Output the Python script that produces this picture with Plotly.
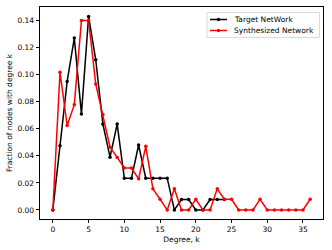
import plotly.graph_objects as go

target_k = list(range(0, 25))
target_frac = [0.0, 0.0474, 0.095, 0.127, 0.071, 0.143, 0.111, 0.0635, 0.039, 0.0635,
               0.0235, 0.0235, 0.048, 0.0235, 0.0235, 0.0235, 0.0235, 0.0, 0.0077, 0.0077,
               0.0, 0.0, 0.0077, 0.0077, 0.0077]

synth_k = list(range(0, 37))
synth_frac = [0.0, 0.1017, 0.0624, 0.0778, 0.140, 0.140, 0.093, 0.0706, 0.0464, 0.0388,
              0.031, 0.031, 0.023, 0.047, 0.0156, 0.0079, 0.0, 0.0156, 0.0, 0.0,
              0.0079, 0.0, 0.0, 0.0156, 0.0079, 0.0079, 0.0, 0.0, 0.0, 0.0079,
              0.0, 0.0, 0.0, 0.0, 0.0, 0.0, 0.0079]

series_names = ["Target NetWork", "Synthesized Network"]
series_colors = ["black", "red"]

x_ticks = [0, 5, 10, 15, 20, 25, 30, 35]
y_ticks = [0.00, 0.02, 0.04, 0.06, 0.08, 0.10, 0.12, 0.14]

fig = go.Figure()
for xs, ys, name, col in [(target_k, target_frac, series_names[0], series_colors[0]),
                          (synth_k, synth_frac, series_names[1], series_colors[1])]:
    fig.add_trace(go.Scatter(x=xs, y=ys, mode="lines+markers", name=name, showlegend=False,
                             line=dict(color=col, width=1.5), marker=dict(color=col, size=3.5)))

axis_common = dict(showgrid=False, zeroline=False, ticks="outside", ticklen=3.5, tickwidth=0.8,
                   tickcolor="black", showline=True, linecolor="black", linewidth=0.8, mirror=True,
                   automargin=False, tickfont=dict(size=7.5, color="black"))
fig.update_layout(
    width=332, height=250,
    margin=dict(l=40, r=9, t=7, b=31),
    paper_bgcolor="white", plot_bgcolor="white",
    font=dict(family="DejaVu Sans", size=7.5, color="black"),
    xaxis=dict(range=[-1.8, 37.8], tickvals=x_ticks, ticktext=[str(v) for v in x_ticks],
               title=dict(text="Degree, k", standoff=3, font=dict(size=7.5, color="black")),
               **axis_common),
    yaxis=dict(range=[-0.0067, 0.150], tickvals=y_ticks, ticktext=[f"{v:.2f}" for v in y_ticks],
               title=dict(text="Fraction of nodes with degree k", standoff=3,
                          font=dict(size=7.5, color="black")),
               **axis_common),
    showlegend=False,
)

# manual compact legend (matplotlib style), in paper coordinates
pw, ph = 332 - 40 - 9, 250 - 7 - 31
def px(xp):
    return (xp - 40) / pw
def py(yp):
    return (250 - 31 - yp) / ph

fig.add_shape(type="rect", xref="paper", yref="paper", x0=px(207), x1=px(319.5), y0=py(37.5), y1=py(12.5),
              line=dict(color="#d0d0d0", width=0.8), fillcolor="rgba(255,255,255,0.8)", layer="above")
for i, (name, col) in enumerate(zip(series_names, series_colors)):
    yc = 19.5 + i * 11
    fig.add_shape(type="line", xref="paper", yref="paper", x0=px(210), x1=px(227), y0=py(yc), y1=py(yc),
                  line=dict(color=col, width=1.5), layer="above")
    fig.add_shape(type="circle", xref="paper", yref="paper", x0=px(216.8), x1=px(220.2),
                  y0=py(yc + 1.7), y1=py(yc - 1.7), line=dict(color=col, width=0), fillcolor=col,
                  layer="above")
    fig.add_annotation(xref="paper", yref="paper", x=px(232), y=py(yc), text=name, showarrow=False,
                       xanchor="left", yanchor="middle", font=dict(size=7.5, color="black"))

fig.write_html("out.html", config={"displayModeBar": False},
               post_script="document.body.style.margin='0px';")
